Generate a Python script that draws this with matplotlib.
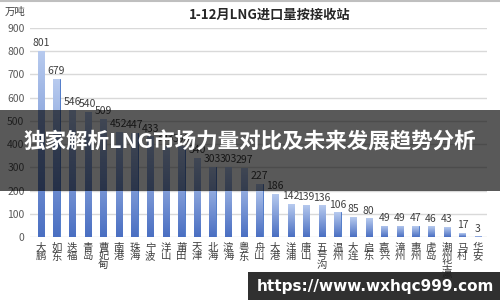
import matplotlib
matplotlib.use("Agg")
import matplotlib.pyplot as plt
from matplotlib.patches import Rectangle
import numpy as np

plt.rcParams['font.family'] = ['Noto Sans CJK SC', 'DejaVu Sans']

# 接收站与进口量（万吨）
stations = ["大鹏", "如东", "迭福", "青岛", "曹妃甸", "南港", "珠海", "宁波", "洋山", "莆田",
            "天津", "北海", "滨海", "粤东", "舟山", "大港", "洋浦", "唐山", "五号沟", "温州",
            "大连", "启东", "嘉兴", "漳州", "惠州", "虎岛", "潮州华瀛", "马村", "华安"]
volumes = [801, 679, 546, 540, 509, 452, 447, 433, 393, 390,
           340, 303, 303, 297, 227, 186, 142, 139, 136, 106,
           85, 80, 49, 49, 47, 46, 43, 17, 3]
yticks = list(range(0, 1000, 100))

fig = plt.figure(figsize=(5, 3), dpi=100)
ax = fig.add_axes([0.06, 0.21, 0.914, 0.697])

x = np.arange(len(stations))
bars = ax.bar(x, volumes, width=0.4, color="#6f8fd6", edgecolor="#4472c4", linewidth=0.6, zorder=2)

# 渐变填充：上浅下深
grad = np.linspace(0, 1, 256).reshape(-1, 1)
cmap = matplotlib.colors.LinearSegmentedColormap.from_list("g", ["#4a6fc2", "#b8cbef"])
for b in bars:
    bx, by = b.get_x(), b.get_y()
    w, h = b.get_width(), b.get_height()
    im = ax.imshow(grad, cmap=cmap, aspect="auto", origin="lower",
                   extent=[bx, bx + w, by, by + h], zorder=2.5)
    im.set_clip_path(b)

for xi, v in zip(x, volumes):
    ax.text(xi, v + 12, str(v), ha="center", va="bottom", fontsize=7.5, color="#404040", zorder=3)

ax.set_xlim(-0.7, len(stations) - 0.42)
ax.set_ylim(0, 900)
ax.set_yticks(yticks)
ax.set_yticklabels([str(t) for t in yticks], fontsize=7.5, color="#595959")
ax.set_xticks(x)
ax.set_xticklabels(["\n".join(s) for s in stations], fontsize=7.5, color="#404040",
                   va="top", linespacing=0.82)
ax.tick_params(length=0, pad=4)
ax.grid(axis="y", color="#d9d9d9", linewidth=1, zorder=0)
for s in ax.spines.values():
    s.set_visible(False)

fig.text(0.54, 0.95, "1-12月LNG进口量按接收站", ha="center", va="center",
         fontsize=9.5, fontweight="bold", color="#262626")
fig.text(0.01, 0.96, "万吨", ha="left", va="center", fontsize=7.5, color="#404040")

# 顶部细边框
fig.add_artist(plt.Line2D([0, 1], [0.997, 0.997], color="#bfbfbf", linewidth=1.5))

# 半透明横幅
fig.add_artist(Rectangle((0, 1 - 191 / 300), 1, 81 / 300, transform=fig.transFigure,
                         facecolor="black", alpha=0.65, zorder=5))
fig.text(0.5, 1 - 142 / 300, "独家解析LNG市场力量对比及未来发展趋势分析", ha="center", va="center",
         fontsize=15.5, fontweight="bold", color="white", zorder=6)

# 右下角网址
fig.add_artist(Rectangle((248 / 500, 0), 252 / 500, 28 / 300, transform=fig.transFigure,
                         facecolor="#1e1e1e", alpha=0.92, zorder=5))
fig.text(375 / 500, 14 / 300, "https://www.wxhqc999.com", ha="center", va="center",
         fontsize=11, fontweight="bold", color="white", family="DejaVu Sans", zorder=6)

fig.savefig("out.png", dpi=100)
